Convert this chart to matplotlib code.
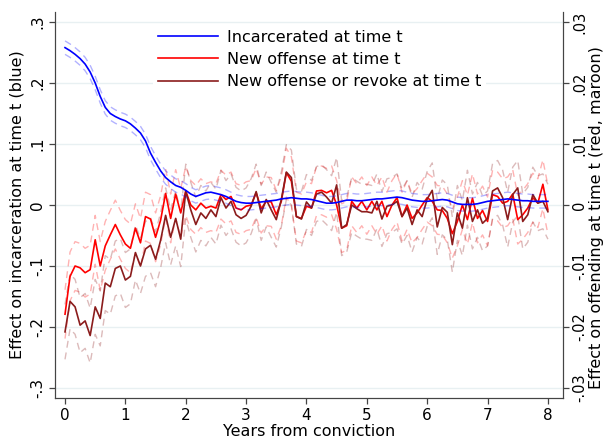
import numpy as np
import matplotlib
matplotlib.use("Agg")
import matplotlib.pyplot as plt

# monthly estimates, years 0..8
months = np.arange(97)
years = months / 12.0

incarcerated = [0.258, 0.253, 0.247, 0.240, 0.231, 0.218, 0.200, 0.178, 0.160, 0.150,
                0.145, 0.141, 0.138, 0.133, 0.126, 0.118, 0.105, 0.085, 0.070, 0.056,
                0.045, 0.038, 0.032, 0.029, 0.024, 0.018, 0.014, 0.017, 0.020, 0.021,
                0.019, 0.017, 0.014, 0.010, 0.006, 0.004, 0.003, 0.003, 0.004, 0.005,
                0.006, 0.007, 0.008, 0.010, 0.011, 0.012, 0.011, 0.010, 0.010, 0.009,
                0.007, 0.005, 0.003, 0.003, 0.004, 0.006, 0.008, 0.008, 0.007, 0.007,
                0.008, 0.009, 0.010, 0.010, 0.011, 0.012, 0.013, 0.012, 0.010, 0.008,
                0.007, 0.006, 0.006, 0.007, 0.008, 0.009, 0.008, 0.005, 0.002, 0.001,
                0.001, 0.001, 0.002, 0.004, 0.006, 0.007, 0.008, 0.009, 0.010, 0.009,
                0.008, 0.007, 0.007, 0.006, 0.006, 0.006, 0.006]

new_offense = [-0.0179, -0.0117, -0.0100, -0.0103, -0.0111, -0.0106, -0.0057, -0.0100, -0.0067, -0.0049,
               -0.0032, -0.0049, -0.0064, -0.0071, -0.0038, -0.0062, -0.0019, -0.0023, -0.0053, -0.0025,
               0.0019, -0.0022, 0.0018, -0.0013, 0.0023, 0.0000, -0.0008, 0.0003, -0.0005, -0.0002,
               -0.0005, 0.0017, 0.0009, 0.0014, -0.0005, -0.0008, -0.0002, 0.0000, 0.0020, -0.0006,
               0.0006, 0.0005, -0.0016, 0.0006, 0.0053, 0.0039, -0.0019, -0.0022, -0.0002, -0.0005,
               0.0023, 0.0024, 0.0020, 0.0024, 0.0000, -0.0038, -0.0034, 0.0006, -0.0005, 0.0006,
               -0.0008, 0.0006, -0.0008, 0.0006, -0.0019, 0.0000, 0.0012, -0.0019, 0.0000, -0.0022,
               -0.0013, 0.0000, 0.0012, 0.0006, -0.0008, -0.0009, -0.0022, -0.0047, -0.0027, 0.0000,
               -0.0024, 0.0011, -0.0022, -0.0009, -0.0027, 0.0017, 0.0014, 0.0003, 0.0006, 0.0018,
               -0.0024, -0.0016, -0.0005, 0.0012, 0.0003, 0.0034, -0.0008]

new_or_revoke = [-0.0208, -0.0158, -0.0167, -0.0197, -0.0190, -0.0214, -0.0167, -0.0186, -0.0128, -0.0134,
                 -0.0104, -0.0100, -0.0123, -0.0117, -0.0078, -0.0100, -0.0072, -0.0066, -0.0089, -0.0058,
                 -0.0017, -0.0053, -0.0022, -0.0056, 0.0022, -0.0008, -0.0032, -0.0013, -0.0022, -0.0008,
                 -0.0019, 0.0012, -0.0005, 0.0006, -0.0016, -0.0022, -0.0017, -0.0002, 0.0022, -0.0013,
                 0.0009, -0.0008, -0.0024, 0.0009, 0.0054, 0.0045, -0.0019, -0.0023, 0.0005, -0.0005,
                 0.0018, 0.0021, 0.0013, 0.0003, 0.0033, -0.0038, -0.0032, 0.0000, -0.0006, -0.0011,
                 -0.0011, -0.0013, 0.0006, -0.0023, -0.0002, 0.0000, 0.0006, -0.0019, -0.0005, -0.0032,
                 -0.0008, -0.0019, 0.0010, 0.0024, -0.0036, -0.0004, -0.0012, -0.0065, -0.0013, -0.0038,
                 0.0012, -0.0027, -0.0008, -0.0030, -0.0022, 0.0023, 0.0028, 0.0012, -0.0024, 0.0017,
                 0.0028, -0.0027, -0.0016, 0.0017, 0.0003, 0.0006, -0.0011]

# 95% CI half-widths
ci_incarcerated = 0.011
ci_offense = 0.0040
ci_revoke = 0.0045

left_ticks = [-0.3, -0.2, -0.1, 0, 0.1, 0.2, 0.3]
left_labels = ["-.3", "-.2", "-.1", "0", ".1", ".2", ".3"]
right_ticks = [-0.03, -0.02, -0.01, 0, 0.01, 0.02, 0.03]
right_labels = ["-.03", "-.02", "-.01", "0", ".01", ".02", ".03"]
x_ticks = [0, 1, 2, 3, 4, 5, 6, 7, 8]

inc = np.array(incarcerated)
off = np.array(new_offense)
rev = np.array(new_or_revoke)

BLUE = "#0000ff"
RED = "#ff0000"
MAROON = "#8b1c1c"
GRID = "#e8f0f2"
SPINE = "#444444"

fig = plt.figure(figsize=(6.03, 4.37), dpi=100)
ax1 = fig.add_axes([55 / 603, 39 / 437, 508 / 603, 386 / 437])
ax2 = ax1.twinx()

dash = (0, (5, 3.5))

# right axis: offending
ax2.plot(years, off + ci_offense, color=RED, alpha=0.3, lw=1, linestyle=dash)
ax2.plot(years, off - ci_offense, color=RED, alpha=0.3, lw=1, linestyle=dash)
ax2.plot(years, rev + ci_revoke, color=MAROON, alpha=0.3, lw=1, linestyle=dash)
ax2.plot(years, rev - ci_revoke, color=MAROON, alpha=0.3, lw=1, linestyle=dash)
ax2.plot(years, off, color=RED, lw=1.2)
ax2.plot(years, rev, color=MAROON, lw=1.2)

# left axis: incarceration
ax1.plot(years, inc + ci_incarcerated, color=BLUE, alpha=0.3, lw=1, linestyle=dash)
ax1.plot(years, inc - ci_incarcerated, color=BLUE, alpha=0.3, lw=1, linestyle=dash)
ax1.plot(years, inc, color=BLUE, lw=1.2)

# blue on top of the offending lines
ax1.set_zorder(ax2.get_zorder() + 1)
ax1.patch.set_visible(False)

ax1.set_xlim(-0.166, 8.25)
ax1.set_ylim(-0.3164, 0.3164)
ax2.set_ylim(-0.03164, 0.03164)

for y in left_ticks:
    ax2.axhline(y / 10, color=GRID, lw=1, zorder=0)

ax1.set_xticks(x_ticks)
ax1.set_yticks(left_ticks)
ax1.set_yticklabels(left_labels, rotation=90, va="center")
ax2.set_yticks(right_ticks)
ax2.set_yticklabels(right_labels, rotation=90, va="center")

for ax in (ax1, ax2):
    ax.tick_params(labelsize=11, length=4.5, width=0.9, color=SPINE, pad=2.5)
    ax.spines["top"].set_visible(False)
    for s in ("left", "right", "bottom"):
        ax.spines[s].set_color(SPINE)
ax2.tick_params(labelsize=10.5, pad=2)

fig.text(309 / 603, 1 - 431 / 437, "Years from conviction", fontsize=11.5,
         ha="center", va="center")
fig.text(17 / 603, 1 - 205 / 437, "Effect on incarceration at time t (blue)", fontsize=11.5,
         rotation=90, ha="center", va="center")
fig.text(596 / 603, 1 - 218 / 437, "Effect on offending at time t (red, maroon)", fontsize=11.5,
         rotation=90, ha="center", va="center")

handles = [plt.Line2D([], [], color=BLUE, lw=1.2),
           plt.Line2D([], [], color=RED, lw=1.2),
           plt.Line2D([], [], color=MAROON, lw=1.2)]
labels = ["Incarcerated at time t", "New offense at time t", "New offense or revoke at time t"]
leg = fig.legend(handles, labels, loc="upper left", bbox_to_anchor=(153 / 603, 1 - 25 / 437),
                 fontsize=11.5, frameon=True, handlelength=3.75, borderaxespad=0,
                 borderpad=0.3, labelspacing=0.45, handletextpad=0.6)
leg.get_frame().set_edgecolor("none")
leg.get_frame().set_facecolor("white")
leg.get_frame().set_alpha(1)
leg.get_frame().set_boxstyle("square", pad=0)

fig.savefig("out.png", dpi=100)
